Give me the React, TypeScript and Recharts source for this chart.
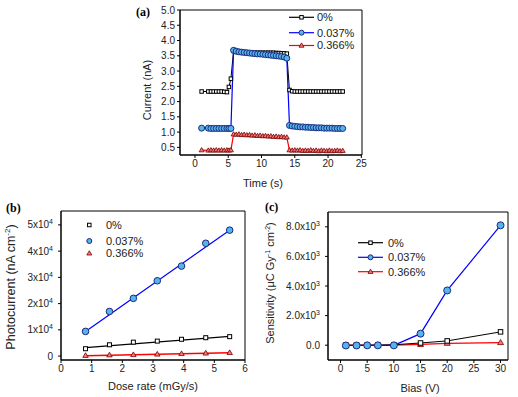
import { LineChart, Line, XAxis, YAxis, ReferenceArea } from 'recharts';

// (a) current vs time
const timeA = [
  1.0, 2.0, 2.4, 2.8, 3.2, 3.6, 4.0, 4.4, 4.8, 5.1, 5.4, 5.8, 6.2, 6.6, 7.0, 7.4, 7.8, 8.2, 8.6, 9.0, 9.4, 9.8,
  10.2, 10.6, 11.0, 11.4, 11.8, 12.2, 12.6, 13.0, 13.4, 13.8, 14.2, 14.6, 15.0, 15.4, 15.8, 16.2, 16.6, 17.0,
  17.4, 17.8, 18.2, 18.6, 19.0, 19.4, 19.8, 20.2, 20.6, 21.0, 21.4, 21.8, 22.2,
];
const current0 = [
  2.33, 2.33, 2.33, 2.33, 2.33, 2.33, 2.33, 2.32, 2.31, 2.48, 2.75, 3.66, 3.63, 3.62, 3.61, 3.61, 3.6, 3.6, 3.6,
  3.6, 3.6, 3.6, 3.6, 3.6, 3.6, 3.6, 3.6, 3.59, 3.59, 3.58, 3.58, 3.57, 2.38, 2.34, 2.33, 2.33, 2.33, 2.33,
  2.33, 2.33, 2.33, 2.33, 2.33, 2.33, 2.33, 2.33, 2.33, 2.33, 2.33, 2.33, 2.33, 2.33, 2.33,
];
const current1 = [
  1.13, 1.13, 1.12, 1.12, 1.12, 1.12, 1.12, 1.12, 1.12, 1.12, 1.12, 3.68, 3.65, 3.63, 3.62, 3.61, 3.6, 3.59,
  3.58, 3.57, 3.56, 3.56, 3.55, 3.54, 3.53, 3.52, 3.51, 3.5, 3.49, 3.48, 3.46, 3.42, 1.22, 1.2, 1.19, 1.18,
  1.17, 1.17, 1.16, 1.16, 1.15, 1.15, 1.14, 1.14, 1.14, 1.13, 1.13, 1.13, 1.13, 1.12, 1.12, 1.12, 1.12,
];
const current2 = [
  0.41, 0.4, 0.41, 0.4, 0.41, 0.4, 0.41, 0.4, 0.41, 0.4, 0.41, 0.93, 0.92, 0.93, 0.91, 0.92, 0.9, 0.91, 0.89,
  0.9, 0.88, 0.89, 0.87, 0.88, 0.86, 0.87, 0.85, 0.86, 0.84, 0.85, 0.83, 0.83, 0.41, 0.4, 0.41, 0.4, 0.41,
  0.39, 0.4, 0.39, 0.41, 0.39, 0.4, 0.38, 0.4, 0.39, 0.38, 0.4, 0.38, 0.39, 0.4, 0.38, 0.39,
];

// (b) photocurrent vs dose rate
const doseRate = [0.8, 1.58, 2.36, 3.14, 3.93, 4.72, 5.5];
const photo0 = [2800, 4300, 5300, 5700, 6400, 7000, 7400];
const photo1 = [9400, 17000, 22000, 28700, 34300, 43000, 48000];
const photo2 = [200, 400, 500, 700, 900, 1100, 1300];
const fitDose = [0.8, 5.5];
const fit0 = [3200, 7500];
const fit1 = [9400, 48000];
const fit2 = [100, 1300];

// (c) sensitivity vs bias
const bias = [1, 3, 5, 7, 10, 15, 20, 30];
const sens0 = [0, 0, 0, 0, 30, 150, 290, 900];
const sens1 = [-20, -20, -10, -10, -10, 780, 3700, 8100];
const sens2 = [0, 0, 0, 0, 0, 50, 130, 180];

const legendLabels = ['0%', '0.037%', '0.366%'];

const font = '"Liberation Sans", Arial, sans-serif';
const textColor = '#222';
const blueFill = '#55B5EA';

const pts = (xs: number[], ys: number[]) => xs.map((x, i) => ({ x, y: ys[i] }));

function Square({ cx, cy, size = 4 }: { cx?: number; cy?: number; size?: number }) {
  if (cx == null || cy == null) return null;
  return <rect x={cx - size / 2} y={cy - size / 2} width={size} height={size} fill="#fff" stroke="#000" strokeWidth={1} />;
}

function Circle({ cx, cy, r = 3 }: { cx?: number; cy?: number; r?: number }) {
  if (cx == null || cy == null) return null;
  return <circle cx={cx} cy={cy} r={r} fill={blueFill} stroke="#1a2a80" strokeWidth={1} />;
}

function Triangle({ cx, cy, size = 6 }: { cx?: number; cy?: number; size?: number }) {
  if (cx == null || cy == null) return null;
  const h = size * 0.85;
  return (
    <polygon
      points={`${cx},${cy - h * 0.6} ${cx - size / 2},${cy + h * 0.4} ${cx + size / 2},${cy + h * 0.4}`}
      fill="#F47A7A"
      stroke="#7a0000"
      strokeWidth={0.8}
    />
  );
}

const dotOf = (Shape: any, extra: object = {}) => (p: any) => (
  <Shape key={`d${p.index}`} cx={p.cx} cy={p.cy} {...extra} />
);

const tickStyle = { fontSize: 10, fill: textColor, fontFamily: font };
const axisProps = {
  stroke: '#000',
  tickSize: 3,
  interval: 0 as const,
  tickLine: { stroke: '#000' },
  axisLine: { stroke: '#000' },
  tick: tickStyle,
};

function SciTick({ x, y, payload, mantissaDigits, exp }: any) {
  const v = payload.value as number;
  if (v === 0) {
    return (
      <text x={x} y={y} dy="0.35em" textAnchor="end" fontSize={10} fill={textColor} fontFamily={font}>
        {mantissaDigits ? '0.0' : '0'}
      </text>
    );
  }
  const m = v / Math.pow(10, exp);
  return (
    <text x={x} y={y} dy="0.35em" textAnchor="end" fontSize={10} fill={textColor} fontFamily={font}>
      {mantissaDigits ? m.toFixed(mantissaDigits) : m}x10
      <tspan dy={-4} fontSize={7}>
        {exp}
      </tspan>
    </text>
  );
}

function PanelA() {
  const xDom: [number, number] = [-2.25, 25.1];
  const yDom: [number, number] = [0.25, 5];
  return (
    <div style={{ position: 'absolute', left: 120, top: 0 }}>
      <LineChart width={260} height={200} margin={{ top: 10, right: 18, bottom: 20, left: 15 }}>
        <XAxis type="number" dataKey="x" domain={xDom} allowDataOverflow ticks={[0, 5, 10, 15, 20, 25]} height={25} {...axisProps} />
        <YAxis
          type="number"
          dataKey="y"
          domain={yDom}
          allowDataOverflow
          ticks={[0.5, 1, 1.5, 2, 2.5, 3, 3.5, 4, 4.5, 5]}
          tickFormatter={(v: number) => v.toFixed(1)}
          width={45}
          {...axisProps}
        />
        <ReferenceArea x1={xDom[0]} x2={xDom[1]} y1={yDom[0]} y2={yDom[1]} fill="none" stroke="#000" strokeOpacity={1} />
        <Line data={pts(timeA, current0)} dataKey="y" stroke="#000" strokeWidth={1} dot={dotOf(Square, { size: 3.5 })} isAnimationActive={false} />
        <Line data={pts(timeA, current1)} dataKey="y" stroke="#0000ff" strokeWidth={1.2} dot={dotOf(Circle, { r: 3 })} isAnimationActive={false} />
        <Line data={pts(timeA, current2)} dataKey="y" stroke="#ff0000" strokeWidth={1.2} dot={dotOf(Triangle, { size: 5 })} isAnimationActive={false} />
      </LineChart>
    </div>
  );
}

function PanelB() {
  const xDom: [number, number] = [0, 6];
  const yDom: [number, number] = [-1500, 55300];
  return (
    <div style={{ position: 'absolute', left: 0, top: 195 }}>
      <LineChart width={260} height={200} margin={{ top: 16, right: 15, bottom: 10, left: 11 }}>
        <XAxis type="number" dataKey="x" domain={xDom} allowDataOverflow ticks={[0, 1, 2, 3, 4, 5, 6]} height={25} {...axisProps} />
        <YAxis
          type="number"
          dataKey="y"
          domain={yDom}
          allowDataOverflow
          ticks={[0, 10000, 20000, 30000, 40000, 50000]}
          width={50}
          {...axisProps}
          tickMargin={5}
          tick={(p: any) => <SciTick {...p} exp={4} />}
        />
        <ReferenceArea x1={xDom[0]} x2={xDom[1]} y1={yDom[0]} y2={yDom[1]} fill="none" stroke="#000" strokeOpacity={1} />
        <Line data={pts(fitDose, fit0)} dataKey="y" stroke="#000" strokeWidth={1.2} dot={false} isAnimationActive={false} />
        <Line data={pts(fitDose, fit1)} dataKey="y" stroke="#0000ff" strokeWidth={1.2} dot={false} isAnimationActive={false} />
        <Line data={pts(fitDose, fit2)} dataKey="y" stroke="#ff0000" strokeWidth={1.5} dot={false} isAnimationActive={false} />
        <Line data={pts(doseRate, photo0)} dataKey="y" stroke="none" dot={dotOf(Square, { size: 4 })} isAnimationActive={false} />
        <Line data={pts(doseRate, photo1)} dataKey="y" stroke="none" dot={dotOf(Circle, { r: 3.3 })} isAnimationActive={false} />
        <Line data={pts(doseRate, photo2)} dataKey="y" stroke="none" dot={dotOf(Triangle, { size: 5.5 })} isAnimationActive={false} />
      </LineChart>
    </div>
  );
}

function PanelC() {
  const xDom: [number, number] = [-2.35, 31.4];
  const yDom: [number, number] = [-1000, 9000];
  return (
    <div style={{ position: 'absolute', left: 260, top: 195 }}>
      <LineChart width={258} height={200} margin={{ top: 17, right: 10, bottom: 10, left: 10 }}>
        <XAxis type="number" dataKey="x" domain={xDom} allowDataOverflow ticks={[0, 5, 10, 15, 20, 25, 30]} height={25} {...axisProps} />
        <YAxis
          type="number"
          dataKey="y"
          domain={yDom}
          allowDataOverflow
          ticks={[0, 2000, 4000, 6000, 8000]}
          width={58}
          {...axisProps}
          tickMargin={5}
          tick={(p: any) => <SciTick {...p} exp={3} mantissaDigits={1} />}
        />
        <ReferenceArea x1={xDom[0]} x2={xDom[1]} y1={yDom[0]} y2={yDom[1]} fill="none" stroke="#000" strokeOpacity={1} />
        <Line data={pts(bias, sens2)} dataKey="y" stroke="#ff0000" strokeWidth={1.2} dot={dotOf(Triangle, { size: 6 })} isAnimationActive={false} />
        <Line data={pts(bias, sens0)} dataKey="y" stroke="#000" strokeWidth={1} dot={dotOf(Square, { size: 4.5 })} isAnimationActive={false} />
        <Line data={pts(bias, sens1)} dataKey="y" stroke="#0000ff" strokeWidth={1.2} dot={dotOf(Circle, { r: 3.5 })} isAnimationActive={false} />
      </LineChart>
    </div>
  );
}

const markerFor = [
  (cx: number, cy: number) => <Square cx={cx} cy={cy} size={3.5} />,
  (cx: number, cy: number) => <Circle cx={cx} cy={cy} r={2.5} />,
  (cx: number, cy: number) => <Triangle cx={cx} cy={cy} size={5} />,
];
const lineColors = ['#000', '#0000ff', '#ff0000'];

function LineLegend({ x0, x1, tx, ys }: { x0: number; x1: number; tx: number; ys: number[] }) {
  return (
    <g>
      {legendLabels.map((label, i) => (
        <g key={label}>
          <line x1={x0} x2={x1} y1={ys[i]} y2={ys[i]} stroke={lineColors[i]} strokeWidth={1.2} />
          {markerFor[i]((x0 + x1) / 2, ys[i])}
          <text x={tx} y={ys[i]} dy="0.35em" fontSize={11} fill={textColor} fontFamily={font}>
            {label}
          </text>
        </g>
      ))}
    </g>
  );
}

function Overlay() {
  const title = { fontSize: 11, fill: textColor, fontFamily: font, textAnchor: 'middle' as const };
  const panel = { fontSize: 12, fontWeight: 700, fill: '#000', fontFamily: '"Liberation Serif", "Times New Roman", serif' };
  return (
    <svg width={518} height={397} style={{ position: 'absolute', left: 0, top: 0, pointerEvents: 'none' }}>
      <text x={136} y={16} {...panel}>(a)</text>
      <text x={6} y={212} {...panel}>(b)</text>
      <text x={265} y={211} {...panel}>(c)</text>

      <text x={147} y={90} dy="0.35em" transform="rotate(-90 147 90)" {...title}>Current (nA)</text>
      <text x={263} y={183} dy="0.35em" {...title}>Time (s)</text>

      <text x={11} y={287} dy="0.35em" transform="rotate(-90 11 287)" {...title} fontSize={12.5}>
        Photocurrent (nA cm<tspan dy={-5} fontSize={8}>-2</tspan><tspan dy={5}>)</tspan>
      </text>
      <text x={153} y={386} dy="0.35em" {...title}>Dose rate (mGy/s)</text>

      <text x={270} y={283} dy="0.35em" transform="rotate(-90 270 283)" {...title}>
        Sensitivity (μC Gy<tspan dy={-4} fontSize={7}>-1</tspan>
        <tspan dy={4}> cm</tspan>
        <tspan dy={-4} fontSize={7}>-2</tspan>
        <tspan dy={4}>)</tspan>
      </text>
      <text x={420} y={388} dy="0.35em" {...title}>Bias (V)</text>

      <LineLegend x0={289} x1={314} tx={317} ys={[17.3, 32.7, 45.5]} />
      <LineLegend x0={358} x1={383} tx={388} ys={[242.7, 257.3, 271.7]} />

      {legendLabels.map((label, i) => {
        const y = [225, 241, 253.3][i];
        return (
          <g key={label}>
            {markerFor[i](89.3, y)}
            <text x={106} y={y} dy="0.35em" fontSize={11} fill={textColor} fontFamily={font}>
              {label}
            </text>
          </g>
        );
      })}
    </svg>
  );
}

export default function App() {
  return (
    <div style={{ position: 'absolute', left: 0, top: 0, width: 518, height: 397, background: '#fff', overflow: 'hidden' }}>
      <PanelA />
      <PanelB />
      <PanelC />
      <Overlay />
    </div>
  );
}
